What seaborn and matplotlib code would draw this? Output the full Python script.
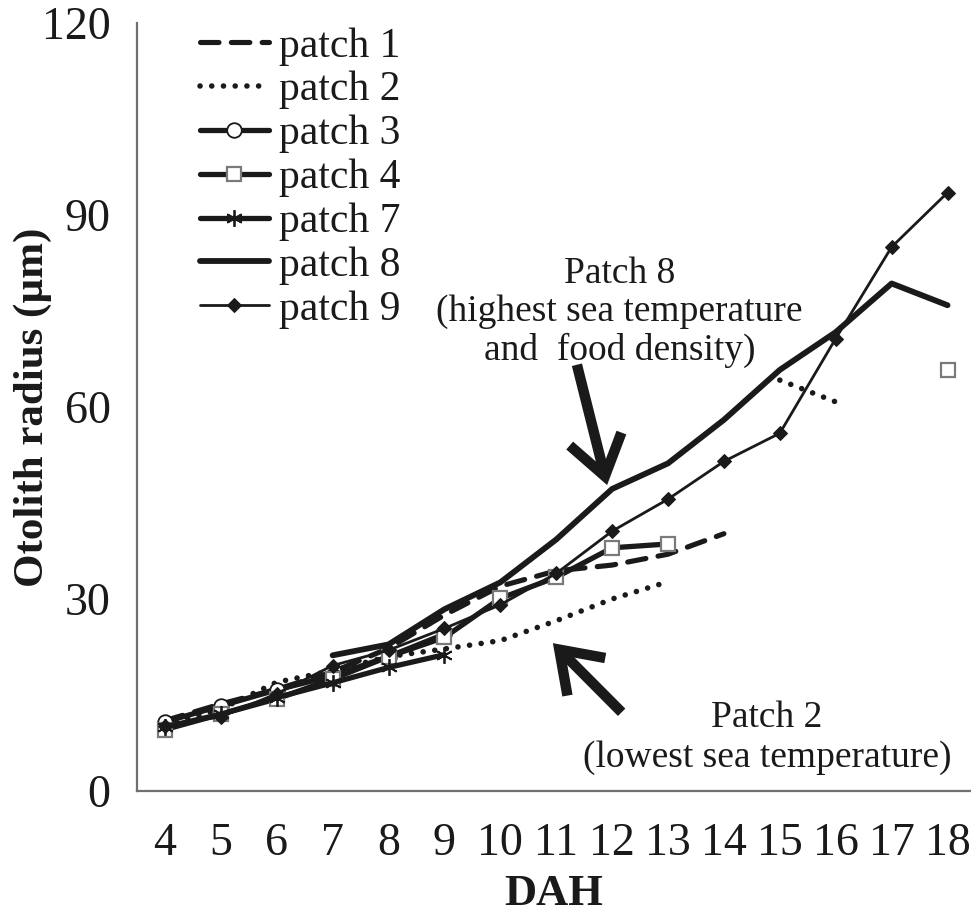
import numpy as np
import pandas as pd
import matplotlib
matplotlib.use("Agg")
import matplotlib.pyplot as plt
import seaborn as sns

# ---------------- data ----------------
days = list(range(4, 19))
nan = np.nan
patch1 = [11.0, 13.6, 15.9, 18.6, 22.3, 27.5, 32.0, 34.4, 35.3, 37.0, 40.2, nan, nan, nan, nan]
patch2 = [10.4, 12.8, 17.0, 18.8, 21.0, 22.2, 23.5, 26.6, 30.0, 32.7, nan, 64.2, 60.8, nan, nan]
patch3 = [10.8, 13.3, 15.8, 18.0, 21.0, 24.5, nan, nan, nan, nan, nan, nan, nan, nan, nan]
patch4 = [9.6, 12.0, 14.4, 17.5, 21.0, 24.0, 30.1, 33.4, 38.0, 38.6, nan, nan, nan, nan, 65.8]
patch7 = [10.0, 12.0, 14.6, 16.9, 19.3, 21.3, nan, nan, nan, nan, nan, nan, nan, nan, nan]
patch8 = [nan, nan, nan, 21.2, 22.9, 28.4, 32.6, 39.3, 47.2, 51.2, 58.0, 65.8, 71.7, 79.3, 75.9]
patch9 = [10.2, 11.6, 15.2, 19.6, 22.0, 25.4, 29.1, 34.0, 40.6, 45.6, 51.5, 55.9, 70.7, 85.0, 93.5]
series_names = ["patch 1", "patch 2", "patch 3", "patch 4", "patch 7", "patch 8", "patch 9"]
series_values = [patch1, patch2, patch3, patch4, patch7, patch8, patch9]
y_ticks = [0, 30, 60, 90, 120]

# ---------------- style ----------------
sns.set_style("white")
plt.rcParams["font.family"] = ["Liberation Serif", "DejaVu Serif"]

ink = "#1a1a1a"
styles = {
    "patch 1": dict(color=ink, lw=3.7, linestyle=(0, (3.6, 2.4)), dash_capstyle="round"),
    "patch 2": dict(color=ink, lw=4.0, linestyle=(0, (0.01, 2.1)), dash_capstyle="round"),
    "patch 3": dict(color=ink, lw=3.8, marker="o", markersize=10.5, markerfacecolor="white",
                    markeredgecolor=ink, markeredgewidth=1.3),
    "patch 4": dict(color=ink, lw=3.8, marker="s", markersize=10, markerfacecolor="white",
                    markeredgecolor="#7a7a7a", markeredgewidth=1.6),
    "patch 7": dict(color=ink, lw=3.8, marker=(6, 2, 0), markersize=12,
                    markeredgecolor=ink, markeredgewidth=1.3),
    "patch 8": dict(color=ink, lw=4.2),
    "patch 9": dict(color=ink, lw=2.0, marker="D", markersize=7.5,
                    markerfacecolor=ink, markeredgecolor=ink),
}

fig = plt.figure(figsize=(9.71, 9.17), dpi=100)
ax = fig.add_axes([137 / 971, 1 - 791 / 917, (971 - 137) / 971, (791 - 23) / 917])

handles = []
for name, vals in zip(series_names, series_values):
    df = pd.DataFrame({"DAH": days, "radius": vals})
    df["seg"] = df["radius"].isna().cumsum()
    df = df.dropna()
    first = True
    for _, seg in df.groupby("seg"):
        n_before = len(ax.lines)
        sns.lineplot(data=seg, x="DAH", y="radius", ax=ax, estimator=None,
                     label=name if first else "_nolegend_", legend=False,
                     **styles[name])
        if first:
            handles.append(ax.lines[n_before])
        first = False

ax.set_xlim(3.5, 18.42)
ax.set_ylim(0, 120)

spine_c = "#707070"
for s in ["top", "right"]:
    ax.spines[s].set_visible(False)
for s in ["left", "bottom"]:
    ax.spines[s].set_color(spine_c)
    ax.spines[s].set_linewidth(1.6)

ax.set_xticks(days)
ax.set_xticks(np.arange(3.5, 18.0, 1.0), minor=True)
ax.tick_params(axis="x", which="major", length=0, pad=23, labelsize=33, colors=ink)
ax.tick_params(axis="x", which="minor", length=12, width=1.6, color=spine_c, direction="out")
ax.set_yticks(y_ticks)
ax.tick_params(axis="y", which="major", length=12, width=1.6, color=spine_c, direction="out",
               pad=7, labelsize=33, labelcolor=ink)

ax.set_xlabel("DAH", fontsize=32, fontweight="bold", color=ink)
ax.xaxis.set_label_coords(0.5, (791 - 894) / 768)
ax.xaxis.label.set_va("center")
ax.set_ylabel("Otolith radius (µm)", fontsize=31, fontweight="bold", color=ink)
ax.yaxis.set_label_coords((33 - 137) / 834, 0.5)
ax.yaxis.label.set_va("center")

leg = ax.legend(handles=handles, labels=series_names, loc="upper left",
                bbox_to_anchor=(200 / 971, 1 - 27 / 917), bbox_transform=fig.transFigure,
                frameon=False, fontsize=30, handlelength=1.65, handletextpad=0.25,
                labelspacing=0.13, borderpad=0, borderaxespad=0)
for t in leg.get_texts():
    t.set_color(ink)

# annotations
ax.text(12.13, 74.8, "Patch 8\n(highest sea temperature\nand  food density)", ha="center",
        va="center", fontsize=27, color=ink, linespacing=1.15)
ax.text(14.77, 8.3, "Patch 2\n(lowest sea temperature)", ha="center", va="center",
        fontsize=27, color=ink, linespacing=1.22)

arrow_kw = dict(arrowstyle="->,head_length=1.15,head_width=0.8", lw=7.5, color=ink,
                mutation_scale=24, shrinkA=0, shrinkB=0, joinstyle="miter", capstyle="butt")
ax.annotate("", xy=(11.91, 47.8), xytext=(11.37, 66.6), arrowprops=arrow_kw)
ax.annotate("", xy=(10.94, 23.1), xytext=(12.17, 12.3), arrowprops=arrow_kw)

fig.savefig("out.png", dpi=100)
